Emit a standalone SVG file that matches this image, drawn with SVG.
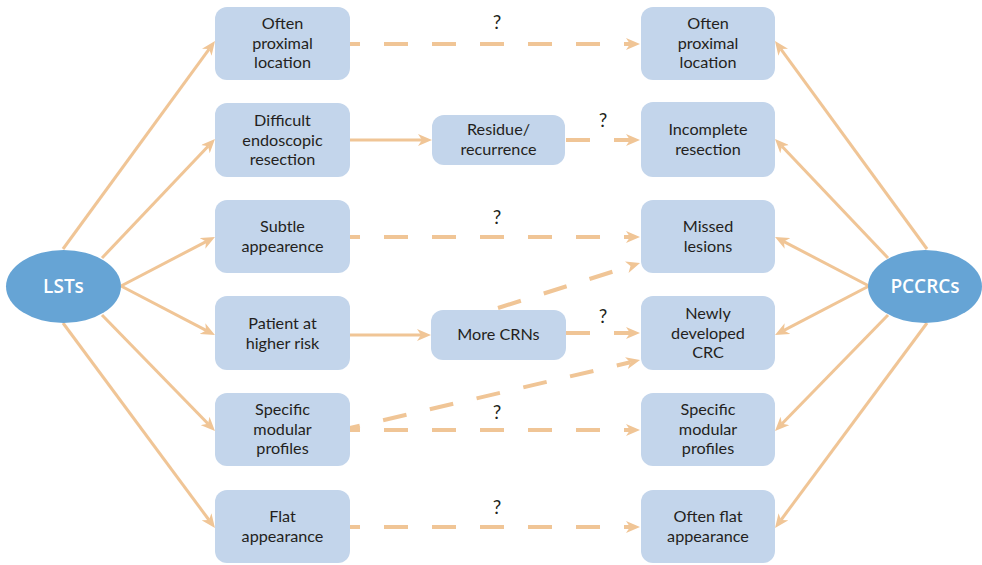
<svg xmlns="http://www.w3.org/2000/svg" width="982" height="565" viewBox="0 0 982 565">
<style>
.box{fill:#c3d5eb;}
.oval{fill:#66a4d5;}
.t{font-family:Lato,"Liberation Sans",sans-serif;font-size:16.2px;fill:#231f20;text-anchor:middle;}
.ot{font-family:"Open Sans","Noto Sans",sans-serif;font-size:19px;font-weight:600;fill:#ffffff;text-anchor:middle;}
.q{font-family:Lato,"Liberation Sans",sans-serif;font-size:19px;fill:#231f20;text-anchor:middle;}
.s{stroke:#f0c596;stroke-width:3;fill:none;marker-end:url(#ah);}
.d{stroke:#f0c596;stroke-width:4;fill:none;stroke-dasharray:24 24;marker-end:url(#ah);}
</style>
<defs>
<marker id="ah" viewBox="0 0 14 12" refX="4" refY="6" markerWidth="14" markerHeight="12" markerUnits="userSpaceOnUse" orient="auto">
<path d="M0,0 L14,6 L0,12 L4,6 z" fill="#f0c596"/>
</marker>
</defs>
<rect width="982" height="565" fill="#ffffff"/>
<g id="connectors">
<line class="s" x1="63" y1="249" x2="209.1" y2="49.1"/>
<line class="s" x1="102" y1="258" x2="208.1" y2="146.3"/>
<line class="s" x1="121" y1="286" x2="206.1" y2="241.6"/>
<line class="s" x1="121" y1="286" x2="206.1" y2="330.4"/>
<line class="s" x1="102" y1="315" x2="208" y2="423.8"/>
<line class="s" x1="63" y1="323" x2="209" y2="520"/>
<line class="s" x1="927" y1="249" x2="780.9" y2="49.1"/>
<line class="s" x1="888" y1="258" x2="781.9" y2="146.3"/>
<line class="s" x1="869" y1="286" x2="783.9" y2="241.6"/>
<line class="s" x1="869" y1="286" x2="783.9" y2="330.4"/>
<line class="s" x1="888" y1="315" x2="782" y2="423.8"/>
<line class="s" x1="927" y1="323" x2="781" y2="520"/>
<line class="s" x1="350" y1="140" x2="422" y2="140"/>
<line class="s" x1="350" y1="335" x2="421" y2="335"/>
<line class="d" x1="350" y1="44" x2="630" y2="44" stroke-dashoffset="14"/>
<line class="d" x1="566" y1="140" x2="630" y2="140"/>
<line class="d" x1="350" y1="237" x2="630" y2="237" stroke-dashoffset="14"/>
<line class="d" x1="566" y1="333" x2="630" y2="333"/>
<line class="d" x1="350" y1="430" x2="630" y2="430" stroke-dashoffset="14"/>
<line class="d" x1="350" y1="527" x2="630" y2="527" stroke-dashoffset="14"/>
<line class="d" x1="498" y1="308" x2="630.5" y2="266"/>
<line class="d" x1="350" y1="428" x2="630.3" y2="362.3" stroke-dashoffset="14"/>
<text class="q" x="497" y="29">?</text>
<text class="q" x="603" y="127">?</text>
<text class="q" x="497" y="224">?</text>
<text class="q" x="603" y="323">?</text>
<text class="q" x="497" y="419">?</text>
<text class="q" x="497" y="514">?</text>
</g>
<g id="lsts">
<ellipse class="oval" cx="63.5" cy="286.5" rx="57.5" ry="36.5"/>
<text class="ot" x="63.5" y="293">LSTs</text>
</g>
<g id="pccrcs">
<ellipse class="oval" cx="925" cy="286.5" rx="57" ry="36.5"/>
<text class="ot" x="925" y="293">PCCRCs</text>
</g>
<g id="l1"><rect class="box" x="215" y="7" width="135" height="73" rx="12"/>
<text class="t" x="282.5" y="29">Often</text><text class="t" x="282.5" y="48.5">proximal</text><text class="t" x="282.5" y="68">location</text></g>
<g id="l2"><rect class="box" x="215" y="103" width="135" height="74" rx="12"/>
<text class="t" x="282.5" y="126">Difficult</text><text class="t" x="282.5" y="145.5">endoscopic</text><text class="t" x="282.5" y="165">resection</text></g>
<g id="l3"><rect class="box" x="215" y="200" width="135" height="73" rx="12"/>
<text class="t" x="282.5" y="232">Subtle</text><text class="t" x="282.5" y="251.5">appearence</text></g>
<g id="l4"><rect class="box" x="215" y="296" width="135" height="74" rx="12"/>
<text class="t" x="282.5" y="329">Patient at</text><text class="t" x="282.5" y="348.5">higher risk</text></g>
<g id="l5"><rect class="box" x="215" y="393" width="135" height="73" rx="12"/>
<text class="t" x="282.5" y="415">Specific</text><text class="t" x="282.5" y="434.5">modular</text><text class="t" x="282.5" y="454">profiles</text></g>
<g id="l6"><rect class="box" x="215" y="490" width="135" height="73" rx="12"/>
<text class="t" x="282.5" y="522">Flat</text><text class="t" x="282.5" y="541.5">appearance</text></g>
<g id="m1"><rect class="box" x="432" y="115" width="133" height="50" rx="12"/>
<text class="t" x="498.5" y="135">Residue/</text><text class="t" x="498.5" y="154.5">recurrence</text></g>
<g id="m2"><rect class="box" x="431" y="310" width="135" height="50" rx="12"/>
<text class="t" x="498.5" y="340">More CRNs</text></g>
<g id="r1"><rect class="box" x="641" y="7" width="134" height="73" rx="12"/>
<text class="t" x="708" y="29">Often</text><text class="t" x="708" y="48.5">proximal</text><text class="t" x="708" y="68">location</text></g>
<g id="r2"><rect class="box" x="641" y="102" width="134" height="75" rx="12"/>
<text class="t" x="708" y="135">Incomplete</text><text class="t" x="708" y="154.5">resection</text></g>
<g id="r3"><rect class="box" x="641" y="200" width="134" height="73" rx="12"/>
<text class="t" x="708" y="232">Missed</text><text class="t" x="708" y="251.5">lesions</text></g>
<g id="r4"><rect class="box" x="641" y="296" width="134" height="74" rx="12"/>
<text class="t" x="708" y="319">Newly</text><text class="t" x="708" y="338.5">developed</text><text class="t" x="708" y="358">CRC</text></g>
<g id="r5"><rect class="box" x="641" y="393" width="134" height="73" rx="12"/>
<text class="t" x="708" y="415">Specific</text><text class="t" x="708" y="434.5">modular</text><text class="t" x="708" y="454">profiles</text></g>
<g id="r6"><rect class="box" x="641" y="490" width="134" height="73" rx="12"/>
<text class="t" x="708" y="522">Often flat</text><text class="t" x="708" y="541.5">appearance</text></g>
</svg>
